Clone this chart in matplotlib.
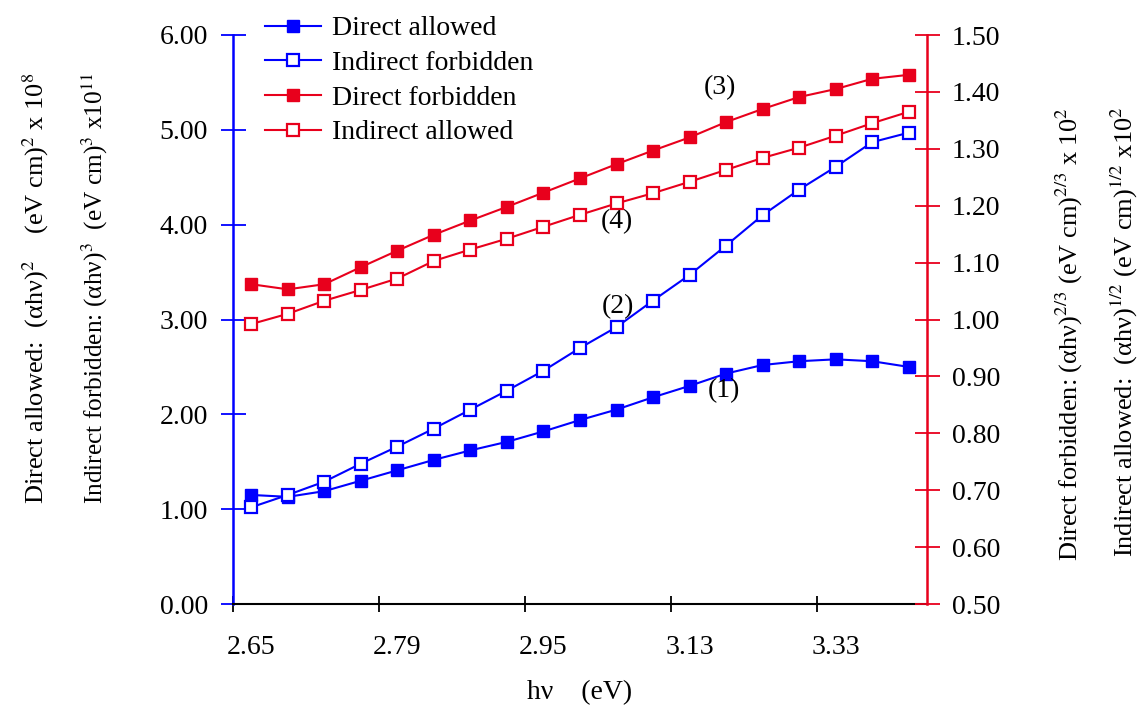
import numpy as np
import matplotlib.pyplot as plt

# photon energy of each measured point (category axis, labelled every 4th point)
hv = [2.65, 2.68, 2.72, 2.76, 2.79, 2.83, 2.87, 2.91, 2.95, 3.00,
      3.04, 3.08, 3.13, 3.18, 3.23, 3.28, 3.33, 3.39, 3.44]
label_every = 4

# left axis series
direct_allowed = [1.15, 1.13, 1.19, 1.30, 1.41, 1.52, 1.62, 1.71, 1.82, 1.94,
                  2.05, 2.18, 2.30, 2.43, 2.52, 2.56, 2.58, 2.56, 2.50]
indirect_forbidden = [1.02, 1.15, 1.29, 1.48, 1.66, 1.85, 2.05, 2.25, 2.46, 2.70,
                      2.92, 3.20, 3.47, 3.78, 4.10, 4.37, 4.61, 4.87, 4.97]
# right axis series
direct_forbidden = [1.062, 1.053, 1.062, 1.092, 1.121, 1.149, 1.174, 1.198, 1.223, 1.248,
                    1.273, 1.297, 1.320, 1.347, 1.370, 1.391, 1.405, 1.423, 1.430]
indirect_allowed = [0.992, 1.010, 1.033, 1.052, 1.072, 1.103, 1.123, 1.142, 1.163, 1.184,
                    1.204, 1.222, 1.242, 1.263, 1.284, 1.302, 1.323, 1.345, 1.365]

plt.rcParams['font.family'] = ['Liberation Serif', 'DejaVu Serif']
plt.rcParams['mathtext.fontset'] = 'stix'

blue = '#0000ff'
red = '#e8001c'
W, H = 1141, 711

fig = plt.figure(figsize=(W / 100, H / 100), dpi=100)
ax = fig.add_axes([233 / W, 107 / H, 694 / W, 569 / H])
ax2 = ax.twinx()
x = np.arange(len(hv))

l1, = ax.plot(x, direct_allowed, color=blue, lw=1.5, marker='s', ms=9,
              mfc=blue, mec=blue, label='Direct allowed')
l2, = ax.plot(x, indirect_forbidden, color=blue, lw=1.5, marker='s', ms=8.5,
              mfc='white', mec=blue, mew=1.6, label='Indirect forbidden')
l3, = ax2.plot(x, direct_forbidden, color=red, lw=1.5, marker='s', ms=9,
               mfc=red, mec=red, label='Direct forbidden')
l4, = ax2.plot(x, indirect_allowed, color=red, lw=1.5, marker='s', ms=8.5,
               mfc='white', mec=red, mew=1.6, label='Indirect allowed')

ax.set_xlim(-0.5, len(hv) - 0.5)
ax.set_ylim(0, 6)
ax2.set_ylim(0.5, 1.5)
ax.set_yticks(np.arange(0, 6.01, 1))
ax2.set_yticks(np.arange(0.5, 1.501, 0.1))
ax.yaxis.set_major_formatter('{x:.2f}')
ax2.yaxis.set_major_formatter('{x:.2f}')

# category style x axis: ticks between categories, labels under every 4th point
ax.set_xticks(np.arange(-0.5, len(hv) - 1, label_every))
ax.set_xticks(x[::label_every], minor=True)
ax.set_xticklabels([f'{v:.2f}' for v in hv[::label_every]], minor=True)
ax.tick_params(axis='x', which='major', direction='inout', length=12, width=1.3,
               color='black', labelbottom=False)
ax.tick_params(axis='x', which='minor', length=0, pad=22, labelsize=20)

ax.tick_params(axis='y', direction='inout', length=18, width=1.3, color=blue,
               pad=9, labelsize=20)
ax2.tick_params(axis='y', direction='inout', length=18, width=1.3, color=red,
                pad=9, labelsize=20)

for s in ['top', 'right']:
    ax.spines[s].set_visible(False)
for s in ['top', 'left', 'bottom']:
    ax2.spines[s].set_visible(False)
ax.spines['left'].set_color(blue)
ax.spines['left'].set_linewidth(1.8)
ax.spines['bottom'].set_linewidth(1.5)
ax2.spines['right'].set_color(red)
ax2.spines['right'].set_linewidth(1.8)

# curve numbers
ax.text(12.94, 2.25, '(1)', fontsize=20, ha='center', va='center')
ax.text(10.04, 3.14, '(2)', fontsize=20, ha='center', va='center')
ax.text(12.83, 5.44, '(3)', fontsize=20, ha='center', va='center')
ax.text(10.01, 4.03, '(4)', fontsize=20, ha='center', va='center')

fig.legend(handles=[l1, l2, l3, l4], loc='upper left',
           bbox_to_anchor=(265 / W, 1 - 16 / H), frameon=False, fontsize=20,
           borderpad=0, borderaxespad=0, handlelength=2.0, handletextpad=0.4,
           labelspacing=0.33)

fig.text(580 / W, 1 - 693 / H, 'hν    (eV)', fontsize=20, ha='center', va='center')

# axis titles (rotated, start-aligned like the original)
ylab = [
    (43, 504, 19, 'Direct allowed:  (αhν)$^2$    (eV cm)$^2$ x 10$^8$'),
    (103, 504, 18.3, 'Indirect forbidden: (αhν)$^3$  (eV cm)$^3$ x10$^{11}$'),
    (1078, 561, 19, 'Direct forbidden: (αhν)$^{2/3}$ (eV cm)$^{2/3}$ x 10$^2$'),
    (1133, 557, 19, 'Indirect allowed:  (αhν)$^{1/2}$ (eV cm)$^{1/2}$ x10$^2$'),
]
for px, py, fs, s in ylab:
    fig.text(px / W, 1 - py / H, s, rotation=90, rotation_mode='anchor',
             ha='left', va='baseline', fontsize=fs)

plt.savefig('out.png', dpi=100)
